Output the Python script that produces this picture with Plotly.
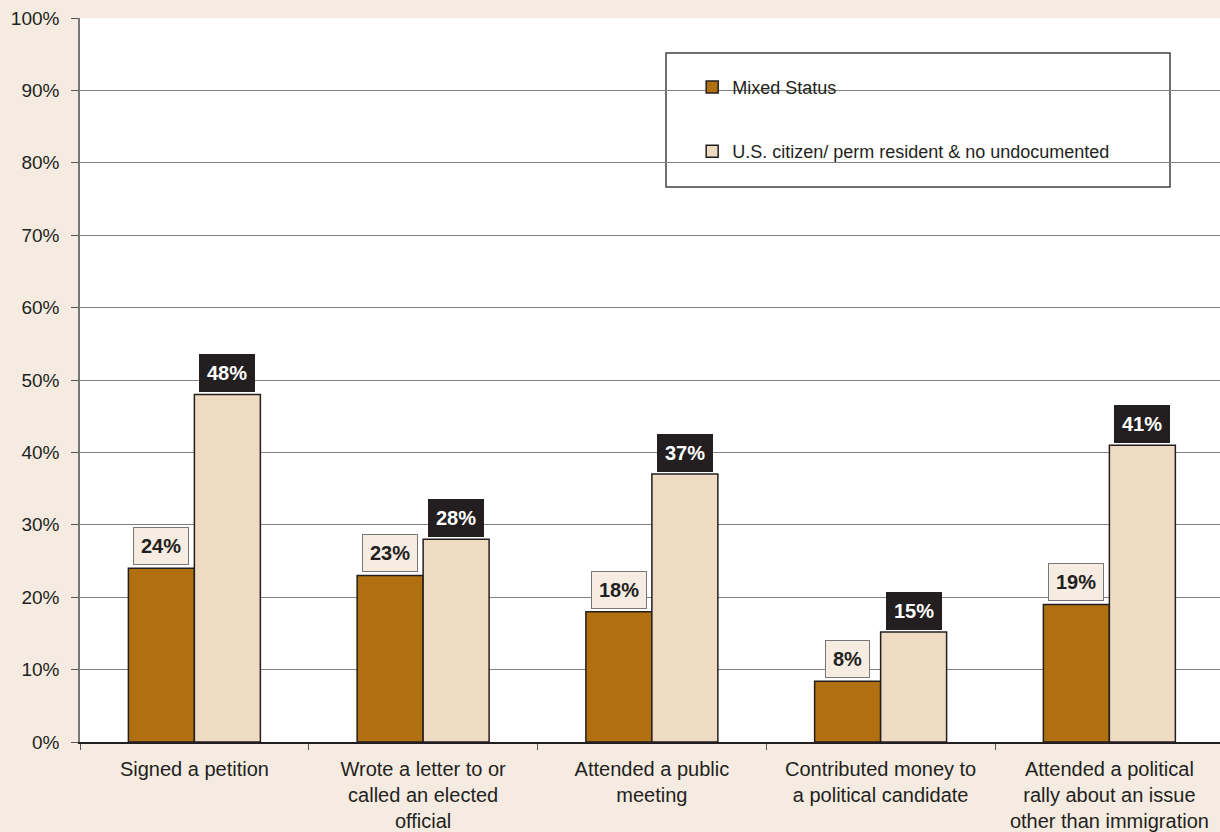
import plotly.graph_objects as go

categories = [
    "Signed a petition",
    "Wrote a letter to or<br>called an elected<br>official",
    "Attended a public<br>meeting",
    "Contributed money to<br>a political candidate",
    "Attended a political<br>rally about an issue<br>other than immigration",
]
mixed_status = [24, 23, 18, 8.4, 19]
citizen_resident = [48, 28, 37, 15.2, 41]
series_names = ["Mixed Status", "U.S. citizen/ perm resident & no undocumented"]

FONT = "Liberation Sans, Arial, sans-serif"
TXT = "#231f20"
C_MIX = "#b07010"
C_CIT = "#eedbc2"
BG = "#f5ebe0"

fig = go.Figure()
fig.add_trace(go.Bar(x=categories, y=mixed_status, name=series_names[0],
                     marker=dict(color=C_MIX, line=dict(color=TXT, width=1.5)),
                     legendgroup="a"))
fig.add_trace(go.Bar(x=categories, y=citizen_resident, name=series_names[1],
                     marker=dict(color=C_CIT, line=dict(color=TXT, width=1.5)),
                     legendgroup="b"))

annotations = []
for c, v in zip(categories, mixed_status):
    annotations.append(dict(x=c, y=v, xref="x", yref="y", xshift=-33, yshift=3,
                            yanchor="bottom", text=f"<b>{round(v)}%</b>", showarrow=False,
                            font=dict(family=FONT, size=20, color=TXT),
                            bgcolor="#f7ece1", bordercolor="#777777", borderwidth=1, borderpad=7))
for c, v in zip(categories, citizen_resident):
    annotations.append(dict(x=c, y=v, xref="x", yref="y", xshift=33, yshift=2,
                            yanchor="bottom", text=f"<b>{round(v)}%</b>", showarrow=False,
                            font=dict(family=FONT, size=20, color="white"),
                            bgcolor="#231f20", bordercolor="#231f20", borderwidth=1, borderpad=7))

fig.update_layout(
    width=1220, height=832,
    margin=dict(l=80, r=0, t=18, b=90),
    paper_bgcolor=BG, plot_bgcolor="white",
    barmode="group", bargap=0.423, bargroupgap=0,
    font=dict(family=FONT, size=19, color=TXT),
    annotations=annotations,
    showlegend=True,
    legend=dict(x=0.537, y=0.93, xanchor="left", yanchor="top",
                bgcolor="rgba(0,0,0,0)", borderwidth=0,
                font=dict(family=FONT, size=18, color=TXT),
                tracegroupgap=38, itemwidth=30),
    shapes=[dict(type="rect", xref="paper", yref="paper",
                 x0=(666 - 80) / 1140, x1=(1170 - 80) / 1140,
                 y0=(742 - 187) / 724, y1=(742 - 53) / 724,
                 line=dict(color="#404040", width=1.5), fillcolor="white", layer="below")],
    xaxis=dict(range=[-0.5, 4.4836], tickson="boundaries", ticks="outside", ticklen=6,
               tickcolor="#555555", showline=True, linecolor=TXT, linewidth=2,
               ticklabelstandoff=8,
               tickfont=dict(size=20, color=TXT), fixedrange=True),
    yaxis=dict(range=[0, 100], dtick=10, ticksuffix="%", ticks="outside", ticklen=7,
               tickcolor="#555555", showline=True, linecolor="#777777", linewidth=1.5,
               ticklabelstandoff=8,
               showgrid=True, gridcolor="#808080", gridwidth=1, zeroline=False,
               tickfont=dict(size=19, color=TXT)),
)

fig.write_html("out.html")
